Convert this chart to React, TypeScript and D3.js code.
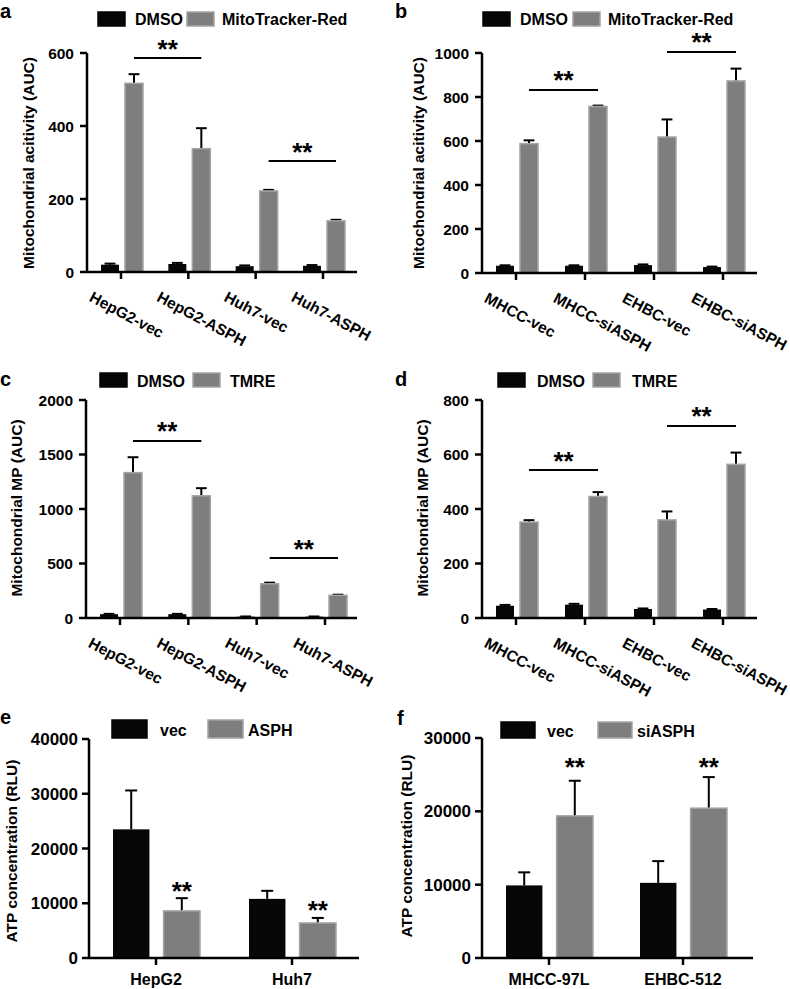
import React from 'react';
import * as d3 from 'd3';

const FONT = "'Liberation Sans', Arial, Helvetica, sans-serif";
const BLACK = '#060606';
const GRAY = '#7e7e7e';
const GRAY_EDGE = '#a4a4a4';

// ---------- Panel a ----------
const catsA = ['HepG2-vec', 'HepG2-ASPH', 'Huh7-vec', 'Huh7-ASPH'];
const dmsoA = [20, 22, 16, 17];
const dmsoSdA = [3, 3, 2, 2];
const mitoA = [517, 338, 222, 140];
const mitoSdA = [25, 56, 3, 3];
const ticksA = [0, 200, 400, 600];
const sigA: [number, number, number][] = [[0, 1, 586], [2, 3, 304]];

// ---------- Panel b ----------
const catsB = ['MHCC-vec', 'MHCC-siASPH', 'EHBC-vec', 'EHBC-siASPH'];
const dmsoB = [33, 33, 36, 27];
const dmsoSdB = [2, 2, 3, 2];
const mitoB = [588, 757, 618, 873];
const mitoSdB = [15, 4, 80, 56];
const ticksB = [0, 200, 400, 600, 800, 1000];
const sigB: [number, number, number][] = [[0, 1, 832], [2, 3, 1005]];

// ---------- Panel c ----------
const catsC = ['HepG2-vec', 'HepG2-ASPH', 'Huh7-vec', 'Huh7-ASPH'];
const dmsoC = [35, 35, 12, 12];
const dmsoSdC = [3, 3, 2, 2];
const tmreC = [1334, 1121, 314, 208];
const tmreSdC = [141, 70, 10, 6];
const ticksC = [0, 500, 1000, 1500, 2000];
const sigC: [number, number, number][] = [[0, 1, 1624], [2, 3, 550]];

// ---------- Panel d ----------
const catsD = ['MHCC-vec', 'MHCC-siASPH', 'EHBC-vec', 'EHBC-siASPH'];
const dmsoD = [45, 49, 33, 31];
const dmsoSdD = [3, 3, 2, 2];
const tmreD = [352, 446, 360, 564];
const tmreSdD = [7, 16, 31, 43];
const ticksD = [0, 200, 400, 600, 800];
const sigD: [number, number, number][] = [[0, 1, 543], [2, 3, 705]];

// ---------- Panel e ----------
const catsE = ['HepG2', 'Huh7'];
const vecE = [23500, 10800];
const vecSdE = [7100, 1470];
const asphE = [8600, 6400];
const asphSdE = [2330, 920];
const ticksE = [0, 10000, 20000, 30000, 40000];
const starE = [13200, 9900];

// ---------- Panel f ----------
const catsF = ['MHCC-97L', 'EHBC-512'];
const vecF = [9900, 10250];
const vecSdF = [1780, 2960];
const siF = [19380, 20430];
const siSdF = [4790, 4240];
const ticksF = [0, 10000, 20000, 30000];
const starF = [26900, 26900];

type Series = { name: string; values: number[]; sd: number[]; color: string; edge?: string };

type Layout = {
  axisX: number; axisEnd: number; y0: number; yTop: number;
  firstTick: number; lastTick: number;
  inner: [number, number]; innerPad: number;
  letter: [number, number]; letterText: string;
  yLabel: [number, number]; yLabelSize: number;
  legend: { rx: [number, number]; tx: [number, number]; ry: number; rw: number; rh: number; ty: number };
  tickFont: number; tickGap: number; rotated: boolean; catFont: number; catY: number;
};

function Panel(props: {
  cats: string[]; series: Series[]; ticks: number[]; yLabel: string; L: Layout;
  sig?: [number, number, number][]; stars?: number[];
}) {
  const { cats, series, ticks, yLabel, L, sig, stars } = props;
  const ymax = ticks[ticks.length - 1];
  const y = d3.scaleLinear().domain([0, ymax]).range([L.y0, L.yTop]);
  const x0 = d3.scalePoint<string>().domain(cats).range([L.firstTick, L.lastTick]);
  const x1 = d3.scaleBand<string>().domain(series.map((s) => s.name)).range(L.inner).paddingInner(L.innerPad);
  const bw = x1.bandwidth();
  const capW = Math.min(12, bw * 0.6);
  const starFs = 26;
  return (
    <g fontFamily={FONT} fontWeight="bold">
      <text x={L.letter[0]} y={L.letter[1]} fontSize={20} fill="#000">{L.letterText}</text>
      {/* legend */}
      {series.map((s, i) => (
        <g key={'lg' + i}>
          <rect x={L.legend.rx[i]} y={L.legend.ry} width={L.legend.rw} height={L.legend.rh} fill={s.color}
            stroke={s.edge || s.color} strokeWidth={1.5} />
          <text x={L.legend.tx[i]} y={L.legend.ty} fontSize={16} fill="#000">{s.name}</text>
        </g>
      ))}
      {/* bars */}
      {series.map((s, si) =>
        cats.map((c, ci) => {
          const bx = (x0(c) as number) + (x1(s.name) as number);
          const top = y(s.values[ci]);
          const et = y(s.values[ci] + s.sd[ci]);
          const cx = bx + bw / 2;
          return (
            <g key={'b' + si + '-' + ci}>
              <line x1={cx} x2={cx} y1={top} y2={et} stroke="#000" strokeWidth={2} />
              <line x1={cx - capW / 2} x2={cx + capW / 2} y1={et} y2={et} stroke="#000" strokeWidth={2} />
              <rect x={bx} y={top} width={bw} height={L.y0 - top} fill={s.color}
                stroke={s.edge || s.color} strokeWidth={s.edge ? 1.5 : 0} />
            </g>
          );
        })
      )}
      {/* y axis */}
      <line x1={L.axisX} x2={L.axisX} y1={y(ymax)} y2={L.y0} stroke="#000" strokeWidth={2.5} />
      {ticks.map((t) => (
        <g key={'yt' + t}>
          <line x1={L.axisX - 7} x2={L.axisX} y1={y(t)} y2={y(t)} stroke="#000" strokeWidth={2.5} />
          <text x={L.axisX - L.tickGap} y={y(t)} dy="0.36em" textAnchor="end" fontSize={L.tickFont} fill="#000">{t}</text>
        </g>
      ))}
      <text transform={`translate(${L.yLabel[0]},${L.yLabel[1]}) rotate(-90)`} textAnchor="middle"
        fontSize={L.yLabelSize} fill="#000">{yLabel}</text>
      {/* x axis */}
      <line x1={L.axisX} x2={L.axisEnd} y1={L.y0} y2={L.y0} stroke="#000" strokeWidth={2.5} />
      {cats.map((c) => {
        const tx = x0(c) as number;
        return (
          <g key={'xt' + c}>
            <line x1={tx} x2={tx} y1={L.y0} y2={L.y0 + 7} stroke="#000" strokeWidth={2.5} />
            {L.rotated ? (
              <text transform={`translate(${tx - 27},${L.y0 + L.catY}) rotate(28)`} x={0} y={12}
                fontSize={L.catFont} fill="#000">{c}</text>
            ) : (
              <text x={tx} y={L.y0 + L.catY} textAnchor="middle" fontSize={L.catFont} fill="#000">{c}</text>
            )}
          </g>
        );
      })}
      {/* significance brackets */}
      {sig && sig.map(([i, j, lvl], k) => {
        const s2 = series[1].name;
        const xa = (x0(cats[i]) as number) + (x1(s2) as number) + bw / 2;
        const xb = (x0(cats[j]) as number) + (x1(s2) as number) + bw / 2;
        const ly = y(lvl);
        return (
          <g key={'sg' + k}>
            <line x1={xa} x2={xb} y1={ly} y2={ly} stroke="#000" strokeWidth={2} />
            <text x={(xa + xb) / 2} y={ly - 0.5} textAnchor="middle" fontSize={starFs} fill="#000">**</text>
          </g>
        );
      })}
      {stars && stars.map((lvl, k) => {
        const s2 = series[1].name;
        const cx = (x0(cats[k]) as number) + (x1(s2) as number) + bw / 2;
        return (
          <text key={'st' + k} x={cx} y={y(lvl) + 0.568 * starFs} textAnchor="middle" fontSize={starFs} fill="#000">**</text>
        );
      })}
    </g>
  );
}

const baseLegend = { ry: 12, rw: 27, rh: 14, ty: 25 };

export default function App() {
  const LA: Layout = {
    axisX: 87, axisEnd: 357, y0: 272, yTop: 53, firstTick: 121, lastTick: 323,
    inner: [-20, 22], innerPad: 0.25, letter: [0, 18], letterText: 'a', yLabel: [34, 163], yLabelSize: 15.5,
    legend: { ...baseLegend, rx: [98, 187], tx: [135, 222] }, tickFont: 15.5, tickGap: 13, rotated: true, catFont: 15.5, catY: 18,
  };
  const LB: Layout = {
    axisX: 482, axisEnd: 757, y0: 273, yTop: 53, firstTick: 516, lastTick: 723,
    inner: [-20, 22], innerPad: 0.25, letter: [395, 18], letterText: 'b', yLabel: [424, 163], yLabelSize: 15.5,
    legend: { ...baseLegend, rx: [483, 573], tx: [520, 608] }, tickFont: 15.5, tickGap: 13, rotated: true, catFont: 15.5, catY: 18,
  };
  const LC: Layout = {
    axisX: 86, axisEnd: 357, y0: 618, yTop: 400, firstTick: 120, lastTick: 325,
    inner: [-20, 22], innerPad: 0.25, letter: [0, 386], letterText: 'c', yLabel: [22, 508], yLabelSize: 15.5,
    legend: { rx: [100, 193], tx: [137, 230], ry: 373, rw: 27, rh: 14, ty: 387 }, tickFont: 15.5, tickGap: 13, rotated: true, catFont: 15.5, catY: 18,
  };
  const LD: Layout = {
    axisX: 482, axisEnd: 757, y0: 618, yTop: 400, firstTick: 516, lastTick: 723,
    inner: [-20, 22], innerPad: 0.25, letter: [395, 386], letterText: 'd', yLabel: [428, 508], yLabelSize: 15.5,
    legend: { rx: [498, 593], tx: [537, 632], ry: 373, rw: 27, rh: 14, ty: 387 }, tickFont: 15.5, tickGap: 13, rotated: true, catFont: 15.5, catY: 18,
  };
  const LE: Layout = {
    axisX: 89, axisEnd: 359, y0: 958, yTop: 739, firstTick: 156, lastTick: 292,
    inner: [-43, 44], innerPad: 0.28, letter: [0, 724], letterText: 'e', yLabel: [17, 851], yLabelSize: 15.5,
    legend: { rx: [112, 208], tx: [160, 248], ry: 720, rw: 35, rh: 18, ty: 736 }, tickFont: 17, tickGap: 11, rotated: false, catFont: 16, catY: 27,
  };
  const LF: Layout = {
    axisX: 482, axisEnd: 753, y0: 958, yTop: 738, firstTick: 549, lastTick: 683,
    inner: [-43, 44], innerPad: 0.28, letter: [397, 725], letterText: 'f', yLabel: [412, 846], yLabelSize: 15.5,
    legend: { rx: [501, 598], tx: [547, 637], ry: 722, rw: 34, rh: 16, ty: 737 }, tickFont: 17, tickGap: 11, rotated: false, catFont: 16, catY: 27,
  };

  const sA: Series[] = [
    { name: 'DMSO', values: dmsoA, sd: dmsoSdA, color: BLACK },
    { name: 'MitoTracker-Red', values: mitoA, sd: mitoSdA, color: GRAY, edge: GRAY_EDGE },
  ];
  const sB: Series[] = [
    { name: 'DMSO', values: dmsoB, sd: dmsoSdB, color: BLACK },
    { name: 'MitoTracker-Red', values: mitoB, sd: mitoSdB, color: GRAY, edge: GRAY_EDGE },
  ];
  const sC: Series[] = [
    { name: 'DMSO', values: dmsoC, sd: dmsoSdC, color: BLACK },
    { name: 'TMRE', values: tmreC, sd: tmreSdC, color: GRAY, edge: GRAY_EDGE },
  ];
  const sD: Series[] = [
    { name: 'DMSO', values: dmsoD, sd: dmsoSdD, color: BLACK },
    { name: 'TMRE', values: tmreD, sd: tmreSdD, color: GRAY, edge: GRAY_EDGE },
  ];
  const sE: Series[] = [
    { name: 'vec', values: vecE, sd: vecSdE, color: BLACK },
    { name: 'ASPH', values: asphE, sd: asphSdE, color: GRAY, edge: GRAY_EDGE },
  ];
  const sF: Series[] = [
    { name: 'vec', values: vecF, sd: vecSdF, color: BLACK },
    { name: 'siASPH', values: siF, sd: siSdF, color: GRAY, edge: GRAY_EDGE },
  ];

  return (
    <svg width={790} height={989} style={{ position: 'absolute', left: 0, top: 0, background: '#fff' }}>
      <rect width={790} height={989} fill="#fff" />
      <Panel cats={catsA} series={sA} ticks={ticksA} yLabel="Mitochondrial acitivity (AUC)" L={LA} sig={sigA} />
      <Panel cats={catsB} series={sB} ticks={ticksB} yLabel="Mitochondrial acitivity (AUC)" L={LB} sig={sigB} />
      <Panel cats={catsC} series={sC} ticks={ticksC} yLabel="Mitochondrial MP (AUC)" L={LC} sig={sigC} />
      <Panel cats={catsD} series={sD} ticks={ticksD} yLabel="Mitochondrial MP (AUC)" L={LD} sig={sigD} />
      <Panel cats={catsE} series={sE} ticks={ticksE} yLabel="ATP concentration (RLU)" L={LE} stars={starE} />
      <Panel cats={catsF} series={sF} ticks={ticksF} yLabel="ATP concentration (RLU)" L={LF} stars={starF} />
    </svg>
  );
}
